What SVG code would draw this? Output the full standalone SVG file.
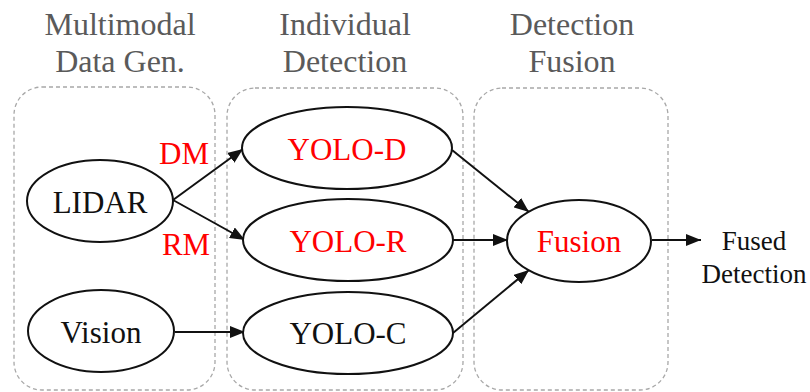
<svg xmlns="http://www.w3.org/2000/svg" width="810" height="392" viewBox="0 0 810 392">
  <style>
    .stage { fill: none; stroke: #a8a8a8; stroke-width: 1.3; stroke-dasharray: 4 3; }
    .title { font-size: 32px; fill: #5a5a5a; text-anchor: middle; }
    .node { fill: #ffffff; stroke: #111111; stroke-width: 2; }
    .label { font-size: 31px; fill: #111111; text-anchor: middle; }
    .red { fill: #ff0000; }
    .edge { fill: none; stroke: #111111; stroke-width: 2; }
    .out { font-size: 27px; fill: #111111; text-anchor: middle; }
  </style>
  <defs>
    <marker id="arrow" markerUnits="userSpaceOnUse" markerWidth="16" markerHeight="12" refX="15" refY="6" orient="auto">
      <path d="M0,0 L15,6 L0,12 z" fill="#111111"/>
    </marker>
  </defs>

  <rect width="810" height="392" fill="#ffffff"/>

  <g font-family="'Liberation Serif', Tinos, 'Times New Roman', 'DejaVu Serif', serif">
  <!-- pipeline stages -->
  <g id="stages">
    <rect class="stage" x="14" y="87" width="201" height="303" rx="28"/>
    <rect class="stage" x="227" y="88" width="236" height="302" rx="28"/>
    <rect class="stage" x="474" y="88" width="194" height="302" rx="28"/>
    <text class="title" x="120" y="35">Multimodal</text>
    <text class="title" x="120" y="72">Data Gen.</text>
    <text class="title" x="345" y="35">Individual</text>
    <text class="title" x="345" y="72">Detection</text>
    <text class="title" x="572" y="35">Detection</text>
    <text class="title" x="572" y="72">Fusion</text>
  </g>

  <!-- connectors -->
  <g id="connectors">
    <line class="edge" x1="173" y1="200" x2="243" y2="149" marker-end="url(#arrow)"/>
    <line class="edge" x1="173" y1="200" x2="245" y2="240" marker-end="url(#arrow)"/>
    <line class="edge" x1="175" y1="332" x2="245" y2="332" marker-end="url(#arrow)"/>
    <line class="edge" x1="452" y1="150" x2="529" y2="212" marker-end="url(#arrow)"/>
    <line class="edge" x1="453" y1="240" x2="508" y2="240" marker-end="url(#arrow)"/>
    <line class="edge" x1="453" y1="333" x2="529" y2="270" marker-end="url(#arrow)"/>
    <line class="edge" x1="652" y1="240" x2="701" y2="240" marker-end="url(#arrow)"/>
    <text class="label red" x="184" y="164">DM</text>
    <text class="label red" x="186" y="255">RM</text>
  </g>

  <g id="lidar">
    <ellipse class="node" cx="100" cy="201" rx="73" ry="41"/>
    <text class="label" x="100" y="213">LIDAR</text>
  </g>
  <g id="vision">
    <ellipse class="node" cx="101" cy="331" rx="73" ry="41"/>
    <text class="label" x="101" y="343">Vision</text>
  </g>
  <g id="yolo-d">
    <ellipse class="node" cx="347" cy="148" rx="105" ry="41"/>
    <text class="label red" x="347" y="160">YOLO-D</text>
  </g>
  <g id="yolo-r">
    <ellipse class="node" cx="348" cy="240" rx="105" ry="41"/>
    <text class="label red" x="348" y="252">YOLO-R</text>
  </g>
  <g id="yolo-c">
    <ellipse class="node" cx="348" cy="333" rx="105" ry="41"/>
    <text class="label" x="348" y="344">YOLO-C</text>
  </g>
  <g id="fusion">
    <ellipse class="node" cx="579" cy="241" rx="72" ry="41"/>
    <text class="label red" x="579" y="252">Fusion</text>
  </g>
  <g id="fused-detection">
    <text class="out" x="754" y="250">Fused</text>
    <text class="out" x="754" y="283">Detection</text>
  </g>
  </g>
</svg>
